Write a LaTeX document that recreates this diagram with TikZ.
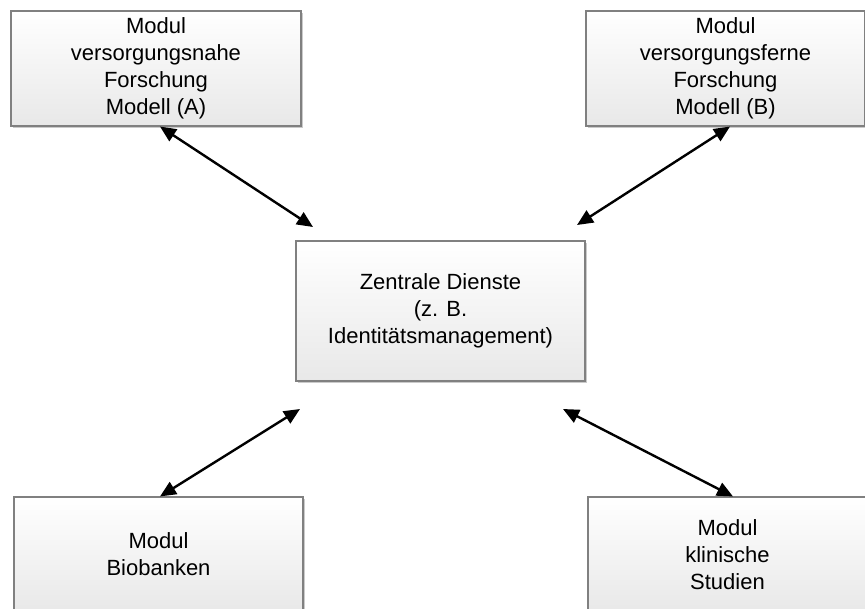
\documentclass[tikz,border=0pt]{standalone}
\usepackage{fontspec}
\setmainfont{Liberation Sans}
\usetikzlibrary{arrows.meta,shadows}
\begin{document}
\begin{tikzpicture}[x=1pt,y=-1pt,
  modbox/.style={draw=black!50, line width=1.1pt, shading=axis, top color=white,
    bottom color=black!9, drop shadow={shadow xshift=1.5pt, shadow yshift=-1.5pt, opacity=0.35, fill=black!60},
    align=center, inner sep=0pt, text=black,
    font=\fontsize{22}{27}\selectfont},
  link/.style={line width=2.4pt, {Triangle[length=16pt,width=14pt]}-{Triangle[length=16pt,width=14pt]}}]
  \useasboundingbox (0,0) rectangle (865,608);

  % modules and central services
  \node[modbox, minimum width=290pt, minimum height=115pt] (A) at (156,68.5)
    {Modul\\versorgungsnahe\\Forschung\\Modell (A)};
  \node[modbox, minimum width=279pt, minimum height=115pt] (B) at (725.5,68.5)
    {Modul\\versorgungsferne\\Forschung\\Modell (B)};
  \node[modbox, minimum width=289pt, minimum height=140pt] (Z) at (440.5,311)
    {Zentrale Dienste\\(z. B.\\Identitätsmanagement)};
  \node[modbox, minimum width=289pt, minimum height=115pt] (Bio) at (158.5,554.5)
    {Modul\\Biobanken};
  \node[modbox, minimum width=279pt, minimum height=115pt] (Kl) at (727.5,554.5)
    {Modul\\klinische\\Studien};

  % free arrow ends around the central box
  \coordinate (zA) at (313,227);
  \coordinate (zB) at (577,225);
  \coordinate (zBio) at (300,409);
  \coordinate (zKl) at (563,409);

  \draw[link] ([xshift=4pt]A.south) -- (zA);
  \draw[link] ([xshift=4.5pt]B.south) -- (zB);
  \draw[link] ([xshift=1.5pt]Bio.north) -- (zBio);
  \draw[link] ([xshift=5.5pt]Kl.north) -- (zKl);
\end{tikzpicture}
\end{document}
